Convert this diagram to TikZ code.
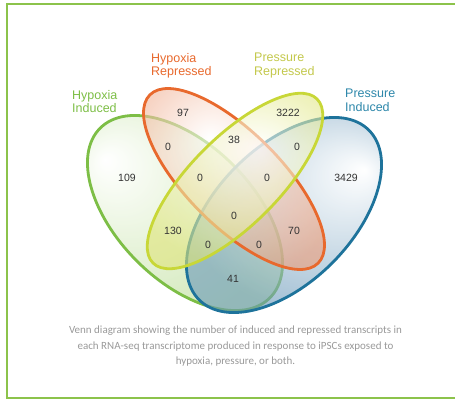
\documentclass[tikz,border=0pt]{standalone}
\usepackage{fontspec}
\setmainfont{Liberation Sans}
\newfontfamily\capfont{Carlito}
\usetikzlibrary{positioning}
\definecolor{framegreen}{RGB}{140,195,75}
\definecolor{hiline}{RGB}{125,190,70}
\definecolor{hifill}{RGB}{180,218,140}
\definecolor{hrline}{RGB}{232,105,45}
\definecolor{hrfill}{RGB}{236,155,118}
\definecolor{prline}{RGB}{200,215,55}
\definecolor{prfill}{RGB}{222,228,120}
\definecolor{piline}{RGB}{30,115,155}
\definecolor{pifill}{RGB}{105,152,185}
\definecolor{prtext}{RGB}{195,200,75}
\definecolor{pitext}{RGB}{45,135,170}
\pgfdeclareradialshading{higlow}{\pgfpoint{-18bp}{12bp}}{color(0bp)=(white); color(30bp)=(hifill); color(50bp)=(hifill)}
\pgfdeclareradialshading{piglow}{\pgfpoint{18bp}{12bp}}{color(0bp)=(white); color(30bp)=(pifill); color(50bp)=(pifill)}
\pgfdeclareradialshading{hrglow}{\pgfpoint{-6bp}{10bp}}{color(0bp)=(white); color(30bp)=(hrfill); color(50bp)=(hrfill)}
\pgfdeclareradialshading{prglow}{\pgfpoint{6bp}{10bp}}{color(0bp)=(white); color(30bp)=(prfill); color(50bp)=(prfill)}
\tikzstyle{venn} = [line width=2.8pt, fill opacity=0.6]
\tikzstyle{count} = [font=\fontsize{10.5}{12}\selectfont, text=black!80]
\tikzstyle{setlabel} = [font=\fontsize{12.5}{13.5}\selectfont, align=left, anchor=north west, inner sep=0pt]
\tikzstyle{caption} = [font=\capfont\fontsize{11}{15.5}\selectfont, align=center, text=black!40]

\begin{document}
\begin{tikzpicture}[x=1pt, y=-1pt]
        \useasboundingbox (0,0) rectangle (455,401);
        \clip (0,0) rectangle (455,401);
        \draw [line width=2.6pt, framegreen] (7,4) rectangle (470,398);

        % the four sets
        \shade [venn, draw=hiline, shading=higlow, rotate around={-45:(185,213)}] (185,213) ellipse [x radius=120pt, y radius=68pt];
        \shade [venn, draw=piline, shading=piglow, rotate around={45:(284,215)}] (284,215) ellipse [x radius=120pt, y radius=68pt];
        \shade [venn, draw=hrline, shading=hrglow, rotate around={-45:(234,179)}] (234,179) ellipse [x radius=119pt, y radius=47pt];
        \shade [venn, draw=prline, shading=prglow, rotate around={45:(235,181)}] (235,181) ellipse [x radius=116pt, y radius=44pt];

        \node (hilabel) [setlabel, text=hiline] at (72,90) {Hypoxia\\Induced};
        \node (hrlabel) [setlabel, text=hrline] at (151,53) {Hypoxia\\Repressed};
        \node (prlabel) [setlabel, text=prtext] at (254,53) {Pressure\\Repressed};
        \node (pilabel) [setlabel, text=pitext] at (345,89) {Pressure\\Induced};

        \node (hr) [count] at (183,113) {97};
        \node (pr) [count] at (288,113) {3222};
        \node (hrpr) [count] at (234,140) {38};
        \node (hihr) [count] at (168,147) {0};
        \node (prpi) [count] at (297,147) {0};
        \node (hi) [count] at (127,178) {109};
        \node (hihrpr) [count] at (200,178) {0};
        \node (hrprpi) [count] at (267,178) {0};
        \node (pi) [count] at (346,178) {3429};
        \node (all) [count] at (234,216) {0};
        \node (hipr) [count] at (173,231) {130};
        \node (hrpi) [count] at (294,231) {70};
        \node (hiprpi) [count] at (208,245) {0};
        \node (hihrpi) [count] at (259,245) {0};
        \node (hipi) [count] at (233,279) {41};

        \node (note) [caption] at (235.5,346.5) {Venn diagram showing the number of induced and repressed transcripts in\\each RNA-seq transcriptome produced in response to iPSCs exposed to\\hypoxia, pressure, or both.};
    \end{tikzpicture}
\end{document}
